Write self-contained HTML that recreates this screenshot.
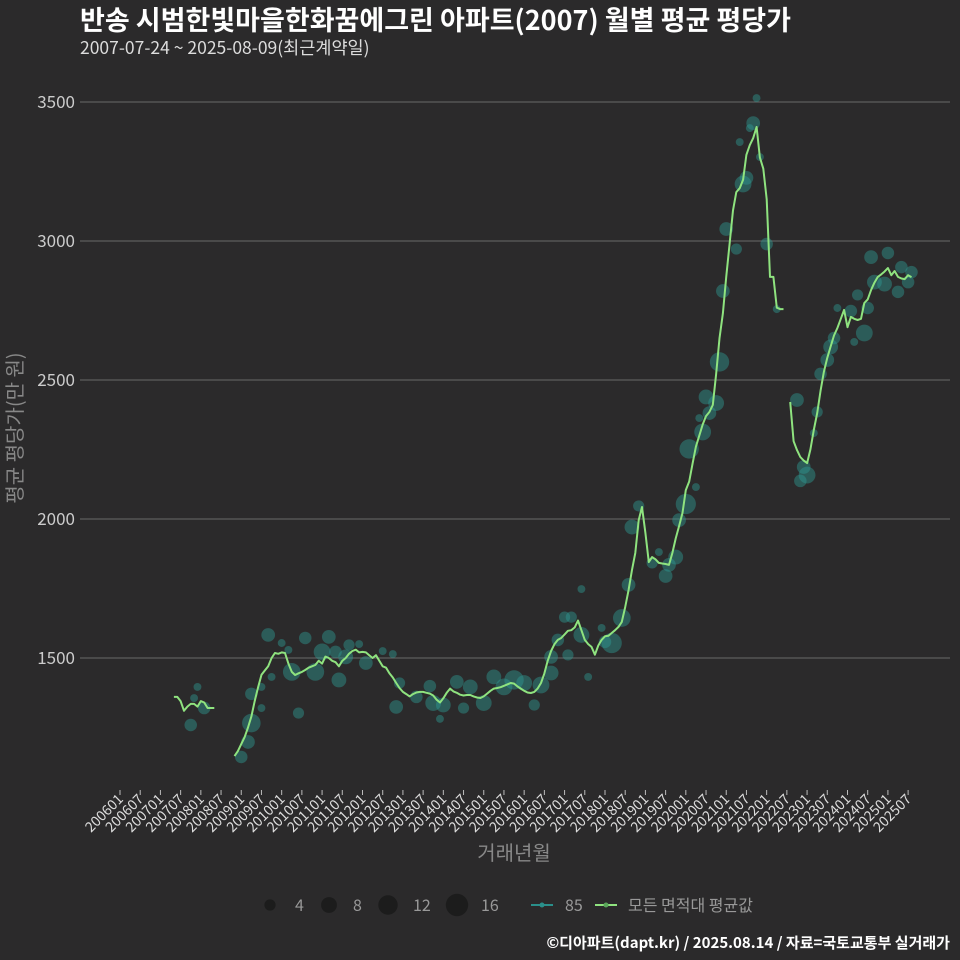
<!DOCTYPE html>
<html><head><meta charset="utf-8">
<style>
html,body{margin:0;padding:0;background:#2b2a2b;}
svg{display:block;font-family:"Noto Sans CJK KR","Liberation Sans",sans-serif;}
</style></head>
<body>
<svg id="chart" width="960" height="960" viewBox="0 0 960 960">
<rect width="960" height="960" fill="#2b2a2b"/>
<text x="80" y="30" fill="#ffffff" font-size="27" font-weight="bold">반송 시범한빛마을한화꿈에그린 아파트(2007) 월별 평균 평당가</text>
<text x="80" y="54" fill="#dddddd" font-size="17.5">2007-07-24 ~ 2025-08-09(최근계약일)</text>
<g id="grid"></g>
<g id="yticks"></g>
<g id="xticks"></g>
<g id="bubbles"></g>
<g id="lines"></g>
<text transform="translate(22,428) rotate(-90)" text-anchor="middle" fill="#888888" font-size="20">평균 평당가(만 원)</text>
<text x="514" y="860" text-anchor="middle" fill="#888888" font-size="20">거래년월</text>
<g>
  <circle cx="270" cy="905" r="5.6" fill="#1c1c1c"/>
  <text x="295" y="911" fill="#999" font-size="16">4</text>
  <circle cx="329" cy="905" r="7.9" fill="#1c1c1c"/>
  <text x="353" y="911" fill="#999" font-size="16">8</text>
  <circle cx="388" cy="905" r="9.7" fill="#1c1c1c"/>
  <text x="413" y="911" fill="#999" font-size="16">12</text>
  <circle cx="457" cy="905" r="11.2" fill="#1c1c1c"/>
  <text x="481" y="911" fill="#999" font-size="16">16</text>
  <line x1="531" y1="905" x2="553" y2="905" stroke="#2a8f8a" stroke-width="2"/>
  <circle cx="542" cy="905" r="2.5" fill="#2a8f8a"/>
  <text x="565" y="911" fill="#999" font-size="16">85</text>
  <line x1="595" y1="905" x2="617" y2="905" stroke="#8fe37f" stroke-width="2"/>
  <circle cx="606" cy="905" r="2.5" fill="#5aa55a"/>
  <text x="628" y="911" fill="#999" font-size="16">모든 면적대 평균값</text>
</g>
<text x="950" y="948" text-anchor="end" fill="#ffffff" font-size="15" font-weight="bold">©디아파트(dapt.kr) / 2025.08.14 / 자료=국토교통부 실거래가</text>
</svg>
<script>
// month index from 2006-01 = 0
const yTicks = [1500, 2000, 2500, 3000, 3500];
const xTickLabels = [];
for (let y = 2006; y <= 2025; y++) { xTickLabels.push(y + "01"); xTickLabels.push(y + "07"); }
const lineSegmentStarts = [16, 34, 199];
const seg1 = [1360,1360,1345,1310,1325,1335,1335,1325,1345,1340,1320,1320,1320];
const seg2 = [1147,1165,1190,1215,1250,1290,1345,1395,1440,1455,1470,1500,1518,1515,1520,1518,1480,1450,1439,1445,1450,1457,1465,1470,1475,1490,1480,1505,1500,1490,1485,1470,1490,1500,1515,1525,1530,1520,1522,1520,1510,1500,1510,1490,1470,1465,1445,1430,1410,1392,
1378,1370,1362,1370,1376,1378,1378,1375,1372,1365,1350,1340,1355,1375,1390,1380,1375,1368,1365,1367,1367,1362,1358,1356,1362,1372,1382,1390,1392,1395,1400,1405,1410,1408,1398,1390,1382,1376,1374,1378,1390,1410,1445,1490,1525,1550,1565,1572,1585,1598,1600,1610,1635,1600,1565,1550,1540,1512,1545,1565,1578,1580,1590,1600,1612,1630,1683,1745,1815,
1878,1996,2043,1950,1845,1863,1855,1842,1840,1838,1835,1878,1930,1975,2022,2104,2135,2200,2260,2300,2340,2370,2385,2410,2520,2650,2740,2870,2990,3110,3176,3190,3220,3310,3345,3370,3410,3300,3260,3150,2871,2871,2760,2755,2755];
const seg3 = [2421,2280,2248,2223,2210,2201,2250,2320,2381,2460,2530,2580,2620,2660,2687,2720,2752,2690,2727,2720,2716,2720,2777,2790,2824,2850,2871,2880,2890,2903,2877,2892,2871,2865,2863,2877,2870];
const bubbleMonths = [44,55,62,60,64,68,67,51,58,65,73,82,53,39,39,38,36,21,23,22,25,45,42,42,48,50,71,78,81,83,88,92,93,96,100,102,104,108,111,114,117,120,123,125,128,128,130,132,134,133,137,139,144,146,149,151,137,143,95,152,154,160,158,162,163,165,166,168,171,169,173,172,175,174,177,201,178,179,180,183,185,186,184,188,187,189,190,192,195,207,206,203,204,202,208,210,211,212,213,217,218,221,219,222,223,228,224,227,231,232,235,234];
const bubbleValues = [1583,1572,1576,1522,1522,1547,1504,1450,1450,1421,1482,1324,1302,1371,1266,1198,1144,1259,1396,1356,1320,1432,1396,1320,1554,1529,1550,1525,1514,1410,1360,1399,1338,1331,1414,1320,1396,1338,1432,1396,1421,1410,1331,1403,1446,1504,1565,1647,1647,1511,1583,1432,1558,1554,1644,1763,1748,1608,1281,1971,2047,1881,1842,1795,1835,1863,1996,2054,2115,2252,2313,2363,2381,2439,2417,2428,2565,2820,3043,2971,3205,3227,3356,3424,3406,3514,3302,2989,2755,2385,2309,2187,2158,2137,2522,2572,2619,2651,2759,2748,2637,2669,2806,2759,2942,2957,2852,2845,2817,2906,2888,2852];
const bubbleCounts = [6,5,6,9,5,4,7,10,10,7,6,6,4,5,11,6,5,5,2,2,5,2,2,2,2,2,2,2,2,4,5,5,8,7,6,4,7,8,7,9,12,8,4,9,7,6,5,4,4,4,8,2,5,13,10,6,2,2,2,7,4,2,4,6,6,7,6,13,2,12,9,2,6,7,8,6,12,6,6,4,9,6,2,6,2,2,2,5,2,4,2,6,9,5,5,6,7,5,2,5,2,9,4,5,6,5,7,7,5,5,5,5];

const NS = "http://www.w3.org/2000/svg";
const xScale = m => 120 + m * 3.368;
const yScale = v => 658 - (v - 1500) * 0.278;
const rScale = n => 2.8 * Math.sqrt(n);
function mk(tag, attrs, parent) { const e = document.createElementNS(NS, tag); for (const k in attrs) e.setAttribute(k, attrs[k]); parent.appendChild(e); return e; }

const grid = document.getElementById("grid"), yt = document.getElementById("yticks");
yTicks.forEach(v => {
  const l = mk("line", {x1: 80, x2: 950, y1: yScale(v), y2: yScale(v), stroke: "#6a6a6a", "stroke-width": 1}, grid);
  
  
  const t = mk("text", {x: 75, y: yScale(v) + 6, "text-anchor": "end", fill: "#cccccc", "font-size": 17}, yt);
  t.textContent = v;
  
  
});
const xt = document.getElementById("xticks");
xTickLabels.forEach((lab, i) => {
  const x = xScale(i * 6);
  const tk = mk("line", {x1: x, x2: x, y1: 790, y2: 795, stroke: "#bbbbbb", "stroke-width": 1}, xt);
  
  
  const t = mk("text", {transform: `translate(${x + 4},800) rotate(-45)`, "text-anchor": "end", fill: "#dddddd", "font-size": 14}, xt);
  t.textContent = lab;
  
  
});
const bg = document.getElementById("bubbles");
bubbleMonths.forEach((m, i) => {
  const c = mk("circle", {cx: xScale(m), cy: yScale(bubbleValues[i]), r: rScale(bubbleCounts[i]), fill: "#2f9a92", "fill-opacity": 0.45}, bg);
  
  
});
const lg = document.getElementById("lines");
[seg1, seg2, seg3].forEach((seg, s) => {
  const pts = seg.map((v, i) => xScale(lineSegmentStarts[s] + i).toFixed(1) + "," + yScale(v).toFixed(1)).join(" ");
  const p = mk("polyline", {points: pts, fill: "none", stroke: "#8fe37f", "stroke-width": 2, "stroke-linejoin": "round"}, lg);
  
  
});
</script>
</body></html>
